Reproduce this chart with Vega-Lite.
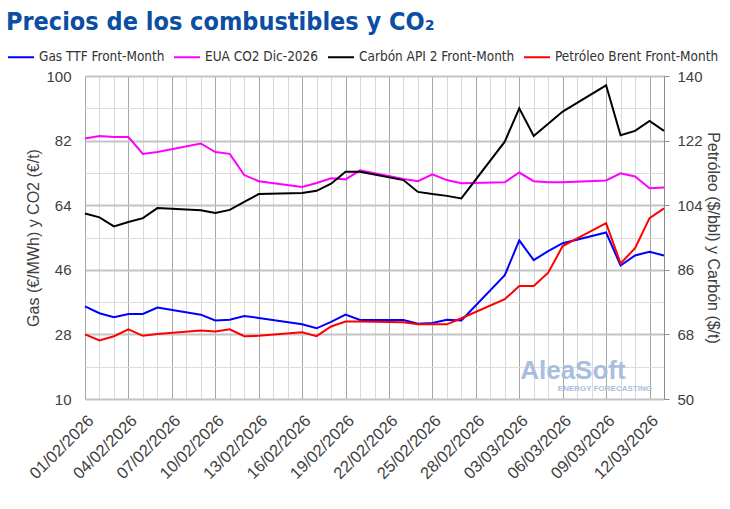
{
  "$schema": "https://vega.github.io/schema/vega-lite/v6.json",
  "width": 579,
  "height": 323,
  "autosize": {"type": "none"},
  "padding": {"left": 85, "top": 76, "right": 66, "bottom": 110},
  "background": "white",
  "title": {
    "text": "Precios de los combustibles y CO₂",
    "anchor": "start",
    "frame": "group",
    "dx": -79,
    "dy": 1,
    "offset": 9,
    "font": "DejaVu Sans Condensed",
    "fontSize": 25,
    "fontWeight": "bold",
    "color": "#0b4ea2"
  },
  "data": {
    "values": [
      {"fecha": "2026-02-01", "serie": "Gas TTF Front-Month", "valor": 35.8},
      {"fecha": "2026-02-02", "serie": "Gas TTF Front-Month", "valor": 33.9},
      {"fecha": "2026-02-03", "serie": "Gas TTF Front-Month", "valor": 32.8},
      {"fecha": "2026-02-04", "serie": "Gas TTF Front-Month", "valor": 33.7},
      {"fecha": "2026-02-05", "serie": "Gas TTF Front-Month", "valor": 33.7},
      {"fecha": "2026-02-06", "serie": "Gas TTF Front-Month", "valor": 35.5},
      {"fecha": "2026-02-09", "serie": "Gas TTF Front-Month", "valor": 33.5},
      {"fecha": "2026-02-10", "serie": "Gas TTF Front-Month", "valor": 31.9},
      {"fecha": "2026-02-11", "serie": "Gas TTF Front-Month", "valor": 32.1},
      {"fecha": "2026-02-12", "serie": "Gas TTF Front-Month", "valor": 33.1},
      {"fecha": "2026-02-13", "serie": "Gas TTF Front-Month", "valor": 32.6},
      {"fecha": "2026-02-16", "serie": "Gas TTF Front-Month", "valor": 30.8},
      {"fecha": "2026-02-17", "serie": "Gas TTF Front-Month", "valor": 29.7},
      {"fecha": "2026-02-18", "serie": "Gas TTF Front-Month", "valor": 31.5},
      {"fecha": "2026-02-19", "serie": "Gas TTF Front-Month", "valor": 33.5},
      {"fecha": "2026-02-20", "serie": "Gas TTF Front-Month", "valor": 32.0},
      {"fecha": "2026-02-23", "serie": "Gas TTF Front-Month", "valor": 32.0},
      {"fecha": "2026-02-24", "serie": "Gas TTF Front-Month", "valor": 31.0},
      {"fecha": "2026-02-25", "serie": "Gas TTF Front-Month", "valor": 31.2},
      {"fecha": "2026-02-26", "serie": "Gas TTF Front-Month", "valor": 32.1},
      {"fecha": "2026-02-27", "serie": "Gas TTF Front-Month", "valor": 31.9},
      {"fecha": "2026-03-02", "serie": "Gas TTF Front-Month", "valor": 44.5},
      {"fecha": "2026-03-03", "serie": "Gas TTF Front-Month", "valor": 54.2},
      {"fecha": "2026-03-04", "serie": "Gas TTF Front-Month", "valor": 48.7},
      {"fecha": "2026-03-05", "serie": "Gas TTF Front-Month", "valor": 51.2},
      {"fecha": "2026-03-06", "serie": "Gas TTF Front-Month", "valor": 53.4},
      {"fecha": "2026-03-09", "serie": "Gas TTF Front-Month", "valor": 56.4},
      {"fecha": "2026-03-10", "serie": "Gas TTF Front-Month", "valor": 47.2},
      {"fecha": "2026-03-11", "serie": "Gas TTF Front-Month", "valor": 50.0},
      {"fecha": "2026-03-12", "serie": "Gas TTF Front-Month", "valor": 51.0},
      {"fecha": "2026-03-13", "serie": "Gas TTF Front-Month", "valor": 50.0},
      {"fecha": "2026-02-01", "serie": "EUA CO2 Dic-2026", "valor": 82.6},
      {"fecha": "2026-02-02", "serie": "EUA CO2 Dic-2026", "valor": 83.3},
      {"fecha": "2026-02-03", "serie": "EUA CO2 Dic-2026", "valor": 83.0},
      {"fecha": "2026-02-04", "serie": "EUA CO2 Dic-2026", "valor": 83.0},
      {"fecha": "2026-02-05", "serie": "EUA CO2 Dic-2026", "valor": 78.3},
      {"fecha": "2026-02-06", "serie": "EUA CO2 Dic-2026", "valor": 78.8},
      {"fecha": "2026-02-09", "serie": "EUA CO2 Dic-2026", "valor": 81.2},
      {"fecha": "2026-02-10", "serie": "EUA CO2 Dic-2026", "valor": 78.8},
      {"fecha": "2026-02-11", "serie": "EUA CO2 Dic-2026", "valor": 78.3},
      {"fecha": "2026-02-12", "serie": "EUA CO2 Dic-2026", "valor": 72.4},
      {"fecha": "2026-02-13", "serie": "EUA CO2 Dic-2026", "valor": 70.7},
      {"fecha": "2026-02-16", "serie": "EUA CO2 Dic-2026", "valor": 69.1},
      {"fecha": "2026-02-17", "serie": "EUA CO2 Dic-2026", "valor": 70.2},
      {"fecha": "2026-02-18", "serie": "EUA CO2 Dic-2026", "valor": 71.5},
      {"fecha": "2026-02-19", "serie": "EUA CO2 Dic-2026", "valor": 71.2},
      {"fecha": "2026-02-20", "serie": "EUA CO2 Dic-2026", "valor": 73.7},
      {"fecha": "2026-02-23", "serie": "EUA CO2 Dic-2026", "valor": 71.3},
      {"fecha": "2026-02-24", "serie": "EUA CO2 Dic-2026", "valor": 70.7},
      {"fecha": "2026-02-25", "serie": "EUA CO2 Dic-2026", "valor": 72.6},
      {"fecha": "2026-02-26", "serie": "EUA CO2 Dic-2026", "valor": 71.0},
      {"fecha": "2026-02-27", "serie": "EUA CO2 Dic-2026", "valor": 70.1},
      {"fecha": "2026-03-02", "serie": "EUA CO2 Dic-2026", "valor": 70.4},
      {"fecha": "2026-03-03", "serie": "EUA CO2 Dic-2026", "valor": 73.1},
      {"fecha": "2026-03-04", "serie": "EUA CO2 Dic-2026", "valor": 70.7},
      {"fecha": "2026-03-05", "serie": "EUA CO2 Dic-2026", "valor": 70.4},
      {"fecha": "2026-03-06", "serie": "EUA CO2 Dic-2026", "valor": 70.4},
      {"fecha": "2026-03-09", "serie": "EUA CO2 Dic-2026", "valor": 70.9},
      {"fecha": "2026-03-10", "serie": "EUA CO2 Dic-2026", "valor": 72.9},
      {"fecha": "2026-03-11", "serie": "EUA CO2 Dic-2026", "valor": 72.0},
      {"fecha": "2026-03-12", "serie": "EUA CO2 Dic-2026", "valor": 68.7},
      {"fecha": "2026-03-13", "serie": "EUA CO2 Dic-2026", "valor": 68.9},
      {"fecha": "2026-02-01", "serie": "Carbón API 2 Front-Month", "valor": 101.7},
      {"fecha": "2026-02-02", "serie": "Carbón API 2 Front-Month", "valor": 100.6},
      {"fecha": "2026-02-03", "serie": "Carbón API 2 Front-Month", "valor": 98.1},
      {"fecha": "2026-02-04", "serie": "Carbón API 2 Front-Month", "valor": 99.3},
      {"fecha": "2026-02-05", "serie": "Carbón API 2 Front-Month", "valor": 100.4},
      {"fecha": "2026-02-06", "serie": "Carbón API 2 Front-Month", "valor": 103.2},
      {"fecha": "2026-02-09", "serie": "Carbón API 2 Front-Month", "valor": 102.6},
      {"fecha": "2026-02-10", "serie": "Carbón API 2 Front-Month", "valor": 101.8},
      {"fecha": "2026-02-11", "serie": "Carbón API 2 Front-Month", "valor": 102.7},
      {"fecha": "2026-02-12", "serie": "Carbón API 2 Front-Month", "valor": 104.9},
      {"fecha": "2026-02-13", "serie": "Carbón API 2 Front-Month", "valor": 107.1},
      {"fecha": "2026-02-16", "serie": "Carbón API 2 Front-Month", "valor": 107.4},
      {"fecha": "2026-02-17", "serie": "Carbón API 2 Front-Month", "valor": 108.0},
      {"fecha": "2026-02-18", "serie": "Carbón API 2 Front-Month", "valor": 110.0},
      {"fecha": "2026-02-19", "serie": "Carbón API 2 Front-Month", "valor": 113.3},
      {"fecha": "2026-02-20", "serie": "Carbón API 2 Front-Month", "valor": 113.3},
      {"fecha": "2026-02-23", "serie": "Carbón API 2 Front-Month", "valor": 111.0},
      {"fecha": "2026-02-24", "serie": "Carbón API 2 Front-Month", "valor": 107.7},
      {"fecha": "2026-02-25", "serie": "Carbón API 2 Front-Month", "valor": 107.1},
      {"fecha": "2026-02-26", "serie": "Carbón API 2 Front-Month", "valor": 106.6},
      {"fecha": "2026-02-27", "serie": "Carbón API 2 Front-Month", "valor": 105.9},
      {"fecha": "2026-03-02", "serie": "Carbón API 2 Front-Month", "valor": 121.7},
      {"fecha": "2026-03-03", "serie": "Carbón API 2 Front-Month", "valor": 131.0},
      {"fecha": "2026-03-04", "serie": "Carbón API 2 Front-Month", "valor": 123.3},
      {"fecha": "2026-03-05", "serie": "Carbón API 2 Front-Month", "valor": 126.7},
      {"fecha": "2026-03-06", "serie": "Carbón API 2 Front-Month", "valor": 130.1},
      {"fecha": "2026-03-09", "serie": "Carbón API 2 Front-Month", "valor": 137.4},
      {"fecha": "2026-03-10", "serie": "Carbón API 2 Front-Month", "valor": 123.5},
      {"fecha": "2026-03-11", "serie": "Carbón API 2 Front-Month", "valor": 124.7},
      {"fecha": "2026-03-12", "serie": "Carbón API 2 Front-Month", "valor": 127.5},
      {"fecha": "2026-03-13", "serie": "Carbón API 2 Front-Month", "valor": 124.7},
      {"fecha": "2026-02-01", "serie": "Petróleo Brent Front-Month", "valor": 68.0},
      {"fecha": "2026-02-02", "serie": "Petróleo Brent Front-Month", "valor": 66.3},
      {"fecha": "2026-02-03", "serie": "Petróleo Brent Front-Month", "valor": 67.5},
      {"fecha": "2026-02-04", "serie": "Petróleo Brent Front-Month", "valor": 69.4},
      {"fecha": "2026-02-05", "serie": "Petróleo Brent Front-Month", "valor": 67.6},
      {"fecha": "2026-02-06", "serie": "Petróleo Brent Front-Month", "valor": 68.1},
      {"fecha": "2026-02-09", "serie": "Petróleo Brent Front-Month", "valor": 69.1},
      {"fecha": "2026-02-10", "serie": "Petróleo Brent Front-Month", "valor": 68.8},
      {"fecha": "2026-02-11", "serie": "Petróleo Brent Front-Month", "valor": 69.4},
      {"fecha": "2026-02-12", "serie": "Petróleo Brent Front-Month", "valor": 67.5},
      {"fecha": "2026-02-13", "serie": "Petróleo Brent Front-Month", "valor": 67.6},
      {"fecha": "2026-02-16", "serie": "Petróleo Brent Front-Month", "valor": 68.6},
      {"fecha": "2026-02-17", "serie": "Petróleo Brent Front-Month", "valor": 67.5},
      {"fecha": "2026-02-18", "serie": "Petróleo Brent Front-Month", "valor": 70.2},
      {"fecha": "2026-02-19", "serie": "Petróleo Brent Front-Month", "valor": 71.6},
      {"fecha": "2026-02-20", "serie": "Petróleo Brent Front-Month", "valor": 71.6},
      {"fecha": "2026-02-23", "serie": "Petróleo Brent Front-Month", "valor": 71.4},
      {"fecha": "2026-02-24", "serie": "Petróleo Brent Front-Month", "valor": 70.8},
      {"fecha": "2026-02-25", "serie": "Petróleo Brent Front-Month", "valor": 70.8},
      {"fecha": "2026-02-26", "serie": "Petróleo Brent Front-Month", "valor": 70.8},
      {"fecha": "2026-02-27", "serie": "Petróleo Brent Front-Month", "valor": 72.5},
      {"fecha": "2026-03-02", "serie": "Petróleo Brent Front-Month", "valor": 77.8},
      {"fecha": "2026-03-03", "serie": "Petróleo Brent Front-Month", "valor": 81.5},
      {"fecha": "2026-03-04", "serie": "Petróleo Brent Front-Month", "valor": 81.5},
      {"fecha": "2026-03-05", "serie": "Petróleo Brent Front-Month", "valor": 85.2},
      {"fecha": "2026-03-06", "serie": "Petróleo Brent Front-Month", "valor": 92.6},
      {"fecha": "2026-03-09", "serie": "Petróleo Brent Front-Month", "valor": 99.0},
      {"fecha": "2026-03-10", "serie": "Petróleo Brent Front-Month", "valor": 87.8},
      {"fecha": "2026-03-11", "serie": "Petróleo Brent Front-Month", "valor": 92.0},
      {"fecha": "2026-03-12", "serie": "Petróleo Brent Front-Month", "valor": 100.4},
      {"fecha": "2026-03-13", "serie": "Petróleo Brent Front-Month", "valor": 103.1}
    ]
  },
  "encoding": {
    "x": {
      "field": "fecha",
      "type": "temporal",
      "title": null,
      "scale": {
        "type": "utc",
        "domain": [
          {"year": 2026, "month": 2, "date": 1, "utc": true},
          {"year": 2026, "month": 3, "date": 13, "utc": true}
        ]
      },
      "axis": {
        "tickCount": {"interval": "day", "step": 1},
        "labelExpr": "round((datum.value - utc(2026, 1, 1)) / 864e5) % 3 == 0 ? utcFormat(datum.value, '%d/%m/%Y') : ''",
        "labelOverlap": false,
        "labelFlush": false,
        "labelAngle": -45,
        "labelFontSize": 16.5,
        "labelPadding": 13,
        "ticks": false,
        "domain": false,
        "grid": true,
        "gridColor": {
          "condition": {"test": "round((datum.value - utc(2026, 1, 1)) / 864e5) % 3 == 0", "value": "#a6a6a6"},
          "value": "#d9d9d9"
        }
      }
    }
  },
  "layer": [
    {
      "transform": [{"filter": "datum.serie == 'Gas TTF Front-Month' || datum.serie == 'EUA CO2 Dic-2026'"}],
      "mark": {"type": "line", "strokeWidth": 2},
      "encoding": {
        "y": {
          "field": "valor",
          "type": "quantitative",
          "scale": {"domain": [10, 100], "nice": false, "zero": false},
          "axis": {
            "title": "Gas (€/MWh) y CO2 (€/t)",
            "values": [10, 19, 28, 37, 46, 55, 64, 73, 82, 91, 100],
            "labelExpr": "(datum.value - 10) % 18 == 0 ? datum.label : ''",
            "labelFontSize": 15,
            "labelPadding": 14,
            "ticks": false,
            "domain": false,
            "grid": true,
            "gridColor": {
              "condition": {"test": "(datum.value - 10) % 18 == 0", "value": "#c4c4c4"},
              "value": "#dcdcdc"
            },
            "gridWidth": {
              "condition": {"test": "(datum.value - 10) % 18 == 0", "value": 2},
              "value": 1
            },
            "titlePadding": 4
          }
        },
        "color": {
          "field": "serie",
          "type": "nominal",
          "scale": {
            "domain": ["Gas TTF Front-Month", "EUA CO2 Dic-2026", "Carbón API 2 Front-Month", "Petróleo Brent Front-Month"],
            "range": ["#0000ff", "#ff00ff", "#000000", "#ff0000"]
          }
        }
      }
    },
    {
      "transform": [{"filter": "datum.serie == 'Carbón API 2 Front-Month' || datum.serie == 'Petróleo Brent Front-Month'"}],
      "mark": {"type": "line", "strokeWidth": 2},
      "encoding": {
        "y": {
          "field": "valor",
          "type": "quantitative",
          "scale": {"domain": [50, 140], "nice": false, "zero": false},
          "axis": {
            "orient": "right",
            "title": "Petróleo ($/bbl) y Carbón ($/t)",
            "values": [50, 68, 86, 104, 122, 140],
            "labelFontSize": 15,
            "labelPadding": 8,
            "ticks": true,
            "tickSize": 5,
            "tickColor": "#8c8c8c",
            "domain": true,
            "domainColor": "#8c8c8c",
            "grid": false,
            "titlePadding": 2
          }
        },
        "color": {"field": "serie", "type": "nominal"}
      }
    },
    {
      "transform": [{"filter": "datum.serie == 'Gas TTF Front-Month' && datum.valor == 35.8"}],
      "mark": {"type": "text", "font": "Liberation Sans", "fontSize": 26, "fontWeight": "bold", "color": "#a9bedf", "baseline": "middle"},
      "encoding": {
        "x": {"datum": {"year": 2026, "month": 3, "date": 6, "hours": 17, "utc": true}, "type": "temporal"},
        "y": {"datum": 17.9, "type": "quantitative", "scale": {"domain": [10, 100], "nice": false, "zero": false}, "axis": null},
        "text": {"value": "AleaSoft"}
      }
    },
    {
      "transform": [{"filter": "datum.serie == 'Gas TTF Front-Month' && datum.valor == 35.8"}],
      "mark": {"type": "text", "font": "Liberation Sans", "fontSize": 8, "fontWeight": "bold", "color": "#a9bedf", "baseline": "middle"},
      "encoding": {
        "x": {"datum": {"year": 2026, "month": 3, "date": 8, "hours": 22, "utc": true}, "type": "temporal"},
        "y": {"datum": 12.8, "type": "quantitative", "scale": {"domain": [10, 100], "nice": false, "zero": false}, "axis": null},
        "text": {"value": "ENERGY FORECASTING"}
      }
    }
  ],
  "resolve": {"scale": {"y": "independent"}},
  "config": {
    "view": {"stroke": null},
    "axis": {
      "labelFont": "Liberation Sans",
      "labelColor": "#404040",
      "titleFont": "Liberation Sans",
      "titleFontSize": 16,
      "titleFontWeight": "normal",
      "titleColor": "#404040"
    },
    "legend": {
      "orient": "none",
      "legendX": -78,
      "legendY": -33,
      "direction": "horizontal",
      "title": null,
      "symbolType": "stroke",
      "symbolSize": 676,
      "symbolStrokeWidth": 2,
      "labelFont": "DejaVu Sans Condensed",
      "labelFontSize": 13.5,
      "labelColor": "#333333",
      "labelOffset": 4,
      "columnPadding": 5,
      "labelLimit": 300
    }
  }
}
